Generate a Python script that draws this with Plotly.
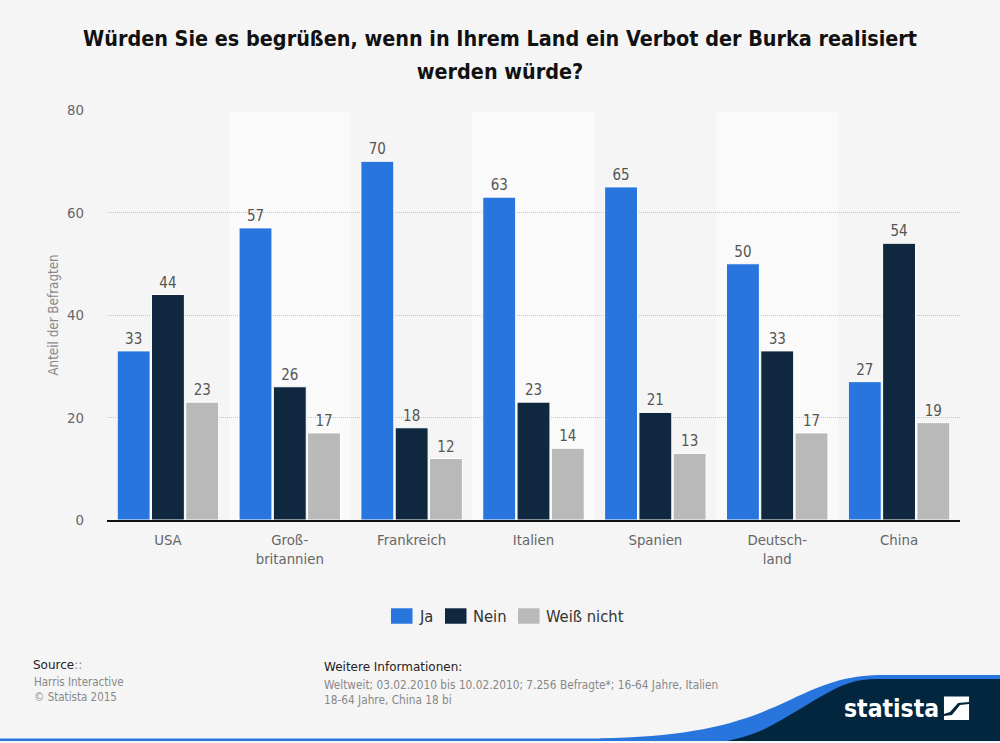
import plotly.graph_objects as go

categories = ["USA", "Groß-<br>britannien", "Frankreich", "Italien", "Spanien", "Deutsch-<br>land", "China"]
ja = [33, 57, 70, 63, 65, 50, 27]
nein = [44, 26, 18, 23, 21, 33, 54]
weiss_nicht = [23, 17, 12, 14, 13, 17, 19]
y_ticks = [0, 20, 40, 60, 80]
FONT = "DejaVu Sans Condensed, DejaVu Sans"
WIDE = "DejaVu Sans"
W, H = 1000, 743
L, R, T, B = 107, 960, 109.5, 520.5

def px(x): return (x - L) / (R - L)
def py(y): return (B - y) / (B - T)
def path(points):
    return "M" + " L".join(f"{px(x):.4f},{py(y):.4f}" for x, y in points) + " Z"
def pt(x, y): return f"{px(x):.4f},{py(y):.4f}"

series = [("Ja", ja, "#2975de"), ("Nein", nein, "#10283f"), ("Weiß nicht", weiss_nicht, "#b9b9b9")]
fig = go.Figure()
for name, vals, col in series:
    fig.add_bar(name=name, x=categories, y=vals, text=vals, textposition="outside", cliponaxis=False,
                marker=dict(color=col, line=dict(color="#ffffff", width=1)),
                textfont=dict(family=FONT, size=15, color="#555555"))

shapes = []
for i in (1, 3, 5):
    shapes.append(dict(type="rect", xref="x", yref="y", x0=i - 0.5, x1=i + 0.5, y0=0, y1=79.7,
                       fillcolor="#fafafa", line_width=0, layer="below"))
# footer wave
wave_blue = ("M" + pt(600, 739.5) + " C" + pt(690, 737) + " " + pt(735, 727) + " " + pt(790, 701)
             + " C" + pt(830, 682) + " " + pt(850, 676) + " " + pt(885, 676)
             + " L" + pt(1000, 676) + " L" + pt(1000, 742) + " L" + pt(600, 742) + " Z")
wave_dark = ("M" + pt(727, 742) + " C" + pt(760, 736) + " " + pt(778, 723) + " " + pt(800, 710)
             + " C" + pt(840, 686) + " " + pt(850, 680) + " " + pt(880, 680)
             + " L" + pt(1000, 680) + " L" + pt(1000, 742) + " Z")
shapes.append(dict(type="rect", xref="paper", yref="paper", x0=px(0), x1=px(620), y0=py(742), y1=py(739.5), fillcolor="#2975de", line_width=0))
shapes.append(dict(type="path", xref="paper", yref="paper", path=wave_blue, fillcolor="#2975de", line_width=0))
shapes.append(dict(type="path", xref="paper", yref="paper", path=wave_dark, fillcolor="#03263f", line_width=0))
# logo mark
shapes.append(dict(type="path", xref="paper", yref="paper", fillcolor="#ffffff", line_width=0,
                   path=path([(944, 697.5), (969, 697.5), (969, 703), (958, 704), (950, 713), (944, 715)])))
shapes.append(dict(type="path", xref="paper", yref="paper", fillcolor="#ffffff", line_width=0,
                   path=path([(969, 705), (969, 721), (944, 721), (944, 717), (952, 716), (960, 706)])))

annos = [
    dict(x=px(31.5), y=py(666), text="Source<span style='color:#888888'>::</span>", font=dict(size=12, color="#222222", family=WIDE)),
    dict(x=px(32.5), y=py(690), text="Harris Interactive<br>© Statista 2015", font=dict(size=11.5, color="#888888")),
    dict(x=px(322.5), y=py(668), text="Weitere Informationen:", font=dict(size=12, color="#222222", family=WIDE)),
    dict(x=px(322.5), y=py(693.5), text="Weltweit; 03.02.2010 bis 10.02.2010; 7.256 Befragte*; 16-64 Jahre, Italien<br>18-64 Jahre, China 18 bi", font=dict(size=11.75, color="#888888")),
    dict(x=px(842.5), y=py(709), text="<b>statista</b>", font=dict(size=24.5, color="#ffffff")),
]
# legend
for (name, _, col), sx in zip(series, (391, 445, 518)):
    shapes.append(dict(type="rect", xref="paper", yref="paper", x0=px(sx), x1=px(sx + 21.5), y0=py(624.5), y1=py(609), fillcolor=col, line_width=0))
    annos.append(dict(x=px(sx + 27), y=py(617.5), text=name, font=dict(size=16.4, color="#333333")))
for a in annos:
    a.update(xref="paper", yref="paper", xanchor="left", yanchor="middle", align="left", showarrow=False, borderpad=0)
    a["font"].setdefault("family", FONT)

fig.update_layout(
    width=W, height=H, autosize=False, showlegend=False,
    margin=dict(l=L, r=W - R, t=T, b=H - B, pad=0),
    paper_bgcolor="#f5f5f5", plot_bgcolor="#f5f5f5",
    font=dict(family=FONT, color="#666666", size=14),
    title=dict(text="<b><span style='font-size:21.4px'>Würden Sie es begrüßen, wenn in Ihrem Land ein Verbot der Burka realisiert<br>werden würde?</span></b>",
               x=0.5, xanchor="center", y=1 - 45.5 / H, yanchor="middle",
               font=dict(family=FONT, size=25.4, color="#111111")),
    barmode="group", bargap=0.156, bargroupgap=0.04,
    shapes=shapes, annotations=annos,
    xaxis=dict(type="category", showgrid=False, showline=True, linecolor="#111111", linewidth=1.5, ticks="",
               tickfont=dict(family=FONT, size=14.8, color="#666666"), ticklabelstandoff=5, range=[-0.5, 6.5], zeroline=False),
    yaxis=dict(range=[0, 80], tickvals=y_ticks, ticks="", showgrid=True, griddash="1px,1px", gridcolor="#c6c6c6", gridwidth=1,
               zeroline=False, showline=False, tickfont=dict(family=FONT, size=14.8, color="#666666"), ticklabelstandoff=22,
               title=dict(text="Anteil der Befragten", standoff=5, font=dict(family=FONT, size=13.3, color="#888888"))),
)
fig.write_html("out.html", config={"displayModeBar": False}, post_script="document.body.style.margin='0';")
